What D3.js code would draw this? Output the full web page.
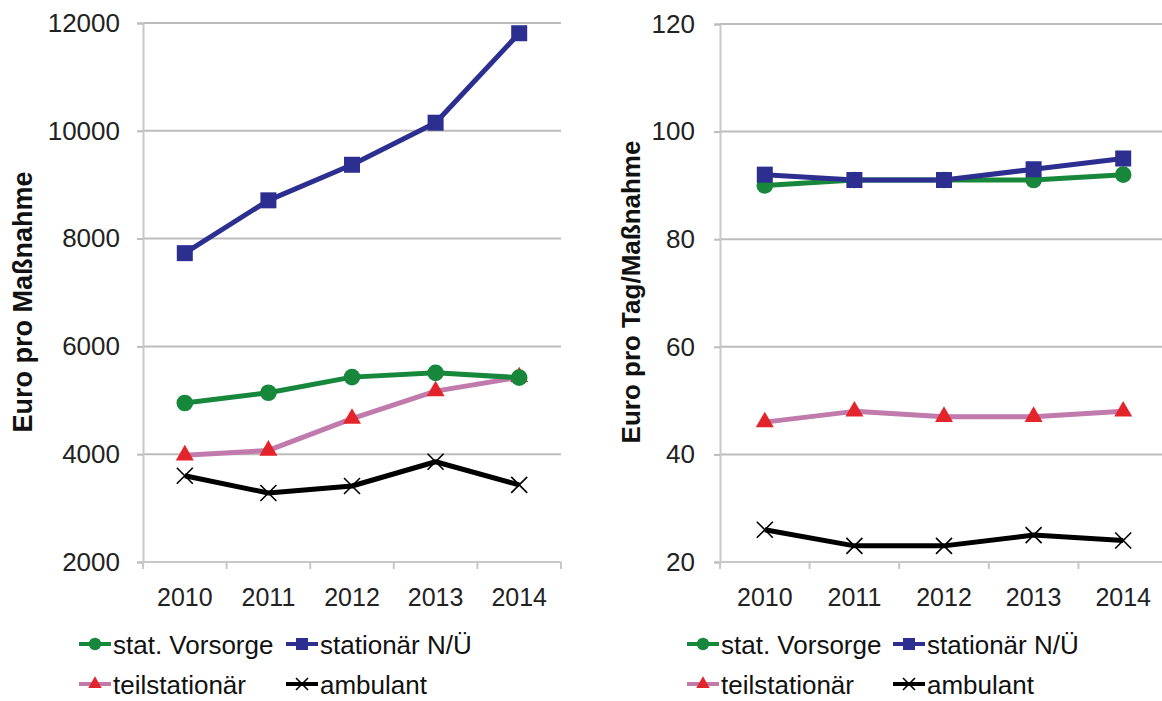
<!DOCTYPE html>
<html><head><meta charset="utf-8">
<script src="https://cdn.jsdelivr.net/npm/d3@7"></script>
<style>body{margin:0;background:#fff;overflow:hidden}svg{display:block}text{font-family:"Liberation Sans",Arial,sans-serif}</style>
</head><body><svg id="c" width="1162" height="701"></svg>
<script>
const years = ["2010","2011","2012","2013","2014"];
const seriesNames = ["stat. Vorsorge","stationär N/Ü","teilstationär","ambulant"];
// left panel: Euro pro Maßnahme
const leftVorsorge = [4950,5140,5430,5510,5420];
const leftStationaer = [7730,8710,9370,10150,11810];
const leftTeil = [3980,4070,4660,5170,5430];
const leftAmbulant = [3600,3280,3410,3860,3430];
const leftTicks = [2000,4000,6000,8000,10000,12000];
// right panel: Euro pro Tag/Maßnahme
const rightVorsorge = [90,91,91,91,92];
const rightStationaer = [92,91,91,93,95];
const rightTeil = [46,48,47,47,48];
const rightAmbulant = [26,23,23,25,24];
const rightTicks = [20,40,60,80,100,120];

const colors = ["#17873b","#2c2f90","#c07aac","#000000"];
const markerColors = ["#17873b","#2c2f90","#e4242b","#000000"];
const svg = d3.select("#c");

function marker(g, type, x, y, col, s) {
  if (type === 0) g.append("circle").attr("cx",x).attr("cy",y).attr("r",s*0.52).attr("fill",col);
  else if (type === 1) g.append("rect").attr("x",x-s/2).attr("y",y-s/2).attr("width",s).attr("height",s).attr("fill",col);
  else if (type === 2) g.append("path").attr("d",d3.symbol(d3.symbolTriangle, s*s*0.55)()).attr("transform",`translate(${x},${y})`).attr("fill",col);
  else {
    const h = s*0.5;
    g.append("path").attr("d",`M${x-h},${y-h}L${x+h},${y+h}M${x-h},${y+h}L${x+h},${y-h}`).attr("stroke",col).attr("stroke-width",1.6).attr("fill","none");
  }
}

function panel(cfg) {
  const g = svg.append("g");
  const x = d3.scaleBand().domain(years).range([cfg.x0, cfg.x1]);
  const y = d3.scaleLinear().domain([cfg.ticks[0], cfg.ticks[cfg.ticks.length-1]]).range([cfg.yb, cfg.yt]);
  // gridlines
  g.selectAll(".grid").data(cfg.ticks.slice(1)).enter().append("line")
    .attr("x1",cfg.x0).attr("x2",cfg.gx).attr("y1",d=>y(d)).attr("y2",d=>y(d))
    .attr("stroke","#bcbcbc").attr("stroke-width",2);
  // y axis
  const ya = d3.axisLeft(y).tickValues(cfg.ticks).tickSize(6).tickPadding(cfg.tp).tickFormat(d3.format("d"));
  const yg = g.append("g").attr("transform",`translate(${cfg.x0},0)`).call(ya);
  yg.select(".domain").attr("stroke","#c8c8c8").attr("stroke-width",2);
  yg.selectAll(".tick line").attr("stroke","#bcbcbc").attr("stroke-width",2);
  yg.selectAll("text").attr("font-size",26).attr("fill","#222");
  // x axis
  const xa = d3.axisBottom(x).tickSize(0).tickPadding(26);
  const xg = g.append("g").attr("transform",`translate(0,${cfg.yb})`).call(xa);
  xg.select(".domain").remove();
  xg.append("line").attr("x1",cfg.x0).attr("x2",cfg.gx).attr("stroke","#c8c8c8").attr("stroke-width",2);
  const bounds = years.map(d=>x(d)).concat([cfg.x1]).filter(b=>b<=cfg.gx);
  xg.selectAll(".bt").data(bounds).enter().append("line").attr("x1",d=>d).attr("x2",d=>d).attr("y1",0).attr("y2",7).attr("stroke","#c8c8c8").attr("stroke-width",2);
  xg.selectAll(".tick text").attr("font-size",25).attr("fill","#222");
  // y label
  g.append("text").attr("transform",`translate(${cfg.lx},${cfg.ly}) rotate(-90)`).attr("text-anchor","middle")
    .attr("font-size",cfg.lfs).attr("font-weight","bold").attr("fill","#111").text(cfg.label);
  // series
  const cx = d => x(d) + x.bandwidth()/2;
  const line = d3.line().x((d,i)=>cx(years[i])).y(d=>y(d));
  const order = [2,3,0,1];
  order.forEach(si => {
    g.append("path").datum(cfg.series[si]).attr("d",line).attr("fill","none").attr("stroke",colors[si]).attr("stroke-width",5).attr("stroke-linejoin","round");
  });
  order.forEach(si => {
    cfg.series[si].forEach((v,i)=> marker(g, si, cx(years[i]), y(v), markerColors[si], 16));
  });
  // legend
  const lg = g.append("g");
  const items = [[cfg.lg[0],cfg.lg[2],0],[cfg.lg[1],cfg.lg[2],1],[cfg.lg[0],cfg.lg[3],2],[cfg.lg[1],cfg.lg[3],3]];
  items.forEach(([lx,ly,si])=>{
    lg.append("line").attr("x1",lx).attr("x2",lx+32).attr("y1",ly).attr("y2",ly).attr("stroke",colors[si]).attr("stroke-width",4);
    marker(lg, si, lx+16, ly, markerColors[si], 12);
    lg.append("text").attr("x",lx+34).attr("y",ly+10).attr("font-size",26).attr("fill","#111").text(seriesNames[si]);
  });
}

panel({x0:143, x1:561, gx:561, yt:23, yb:562, ticks:leftTicks, tp:17, label:"Euro pro Maßnahme", lfs:27, lx:32, ly:302,
  series:[leftVorsorge,leftStationaer,leftTeil,leftAmbulant], lg:[79,286,644,684]});
panel({x0:720, x1:1168, gx:1162, yt:24, yb:562, ticks:rightTicks, tp:19, label:"Euro pro Tag/Maßnahme", lfs:26, lx:640, ly:292,
  series:[rightVorsorge,rightStationaer,rightTeil,rightAmbulant], lg:[687,893,644,684]});
</script></body></html>
